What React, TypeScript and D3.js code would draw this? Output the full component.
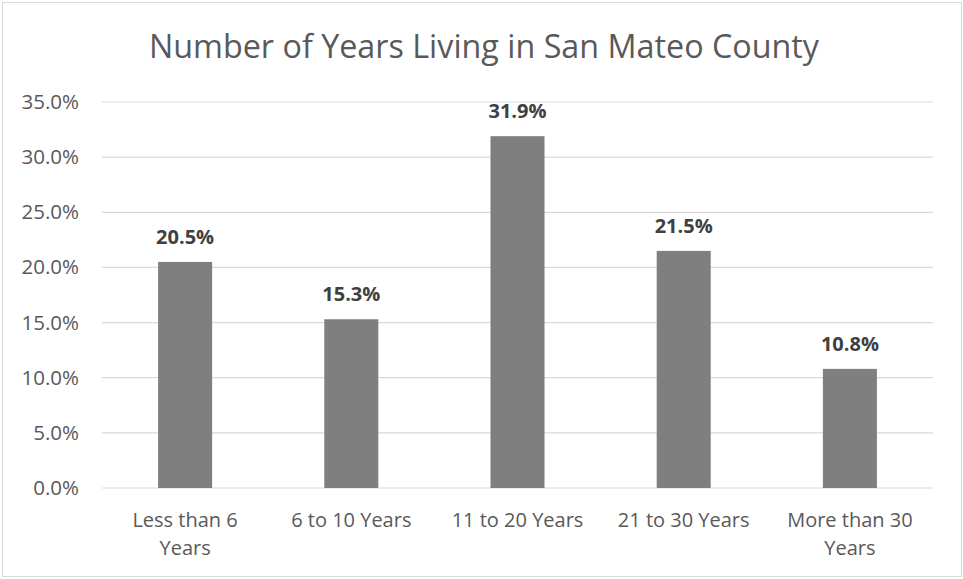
import React from "react";
import * as d3 from "d3";

const categories = [["Less than 6", "Years"], ["6 to 10 Years"], ["11 to 20 Years"], ["21 to 30 Years"], ["More than 30", "Years"]];
const values = [20.5, 15.3, 31.9, 21.5, 10.8];
const yTicks = [0, 5, 10, 15, 20, 25, 30, 35];
const title = "Number of Years Living in San Mateo County";

const W = 963, H = 579;
const FONT = "'Open Sans', Lato, sans-serif";

export default function App() {
  const left = 102, right = 933, top = 102, bottom = 488;
  const keys = categories.map((c) => c.join(" "));
  const x = d3.scaleBand().domain(keys).range([left, right]).paddingInner(0.675).paddingOuter(0.3375);
  const y = d3.scaleLinear().domain([0, 35]).range([bottom, top]);
  return (
    <svg width={W} height={H} style={{ position: "absolute", left: 0, top: 0 }} fontFamily={FONT}>
      <rect x={2.5} y={2.5} width={959} height={574} fill="#fff" stroke="#d9d9d9" />
      <text x={484} y={58} textAnchor="middle" fontSize={32.3} fill="#595959">{title}</text>
      {yTicks.map((t) => (
        <g key={t}>
          <line x1={left} x2={right} y1={y(t)} y2={y(t)} stroke="#d9d9d9" strokeWidth={1.2} />
          <text x={79} y={y(t) + 7} textAnchor="end" fontSize={20.5} fill="#595959">{t.toFixed(1)}%</text>
        </g>
      ))}
      {values.map((v, i) => {
        const k = keys[i];
        const bx = x(k)!;
        return (
          <g key={k}>
            <rect x={bx} y={y(v)} width={x.bandwidth()} height={bottom - y(v)} fill="#7f7f7f" />
            <text x={bx + x.bandwidth() / 2} y={y(v) - 18} textAnchor="middle" fontSize={20} fontWeight="bold" fill="#404040">{v.toFixed(1)}%</text>
            {categories[i].map((line, j) => (
              <text key={j} x={bx + x.bandwidth() / 2} y={527 + j * 28} textAnchor="middle" fontSize={20} fill="#595959">{line}</text>
            ))}
          </g>
        );
      })}
    </svg>
  );
}
